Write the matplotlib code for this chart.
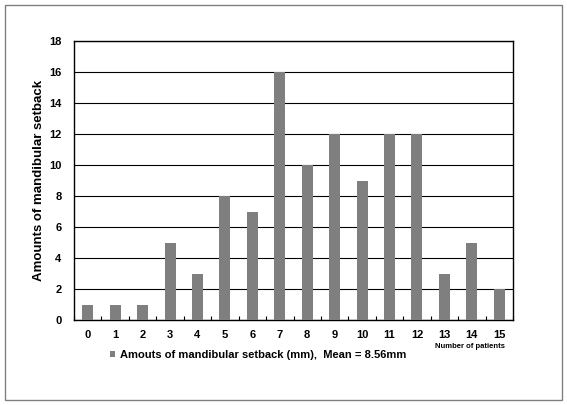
import matplotlib
matplotlib.use("Agg")
import matplotlib.pyplot as plt
from matplotlib.patches import Rectangle
from matplotlib.ticker import FixedLocator

categories = [str(i) for i in range(16)]
values = [1, 1, 1, 5, 3, 8, 7, 16, 10, 12, 9, 12, 12, 3, 5, 2]
yticks = [0, 2, 4, 6, 8, 10, 12, 14, 16, 18]

plt.rcParams['font.family'] = ['Liberation Sans', 'DejaVu Sans']
plt.rcParams['font.weight'] = 'bold'

fig = plt.figure(figsize=(5.67, 4.05), dpi=100)
fig.patches.append(Rectangle((5/567, 1 - 400/405), 557/567, 395/405, transform=fig.transFigure,
                             fill=False, edgecolor='#808080', linewidth=1.0))
ax = fig.add_axes([74/567, 1 - 320/405, 439/567, 279/405])

x = list(range(len(categories)))
ax.bar(x, values, width=0.4, color='#7f7f7f', zorder=3, label='Amouts of mandibular setback (mm),  Mean = 8.56mm')
ax.set_xlim(-0.5, len(categories) - 0.5)
ax.set_ylim(0, 18)
ax.set_yticks(yticks)
ax.set_xticks(x)
ax.set_xticklabels(categories)
ax.xaxis.set_minor_locator(FixedLocator([i + 0.5 for i in range(-1, len(categories))]))
ax.tick_params(axis='x', which='major', length=0, labelsize=8, pad=7)
ax.tick_params(axis='x', which='minor', length=3, direction='in', width=0.8)
ax.tick_params(axis='y', length=0, labelsize=8, pad=9)
ax.grid(axis='y', color='black', linewidth=0.8, zorder=0)
for s in ax.spines.values():
    s.set_linewidth(1.0)
    s.set_color('black')
ax.set_ylabel('Amounts of mandibular setback', fontsize=9.5, fontweight='bold', labelpad=3)
fig.text(470/567, 1 - 347/405, 'Number of patients', fontsize=5.5, fontweight='bold', ha='center', va='center')
ax.legend(loc='center', bbox_to_anchor=(258/567, 1 - 355/405), bbox_transform=fig.transFigure,
          frameon=False, fontsize=8, handlelength=0.5, handleheight=0.5, handletextpad=0.4, borderpad=0)

fig.savefig('out.png', dpi=100)
